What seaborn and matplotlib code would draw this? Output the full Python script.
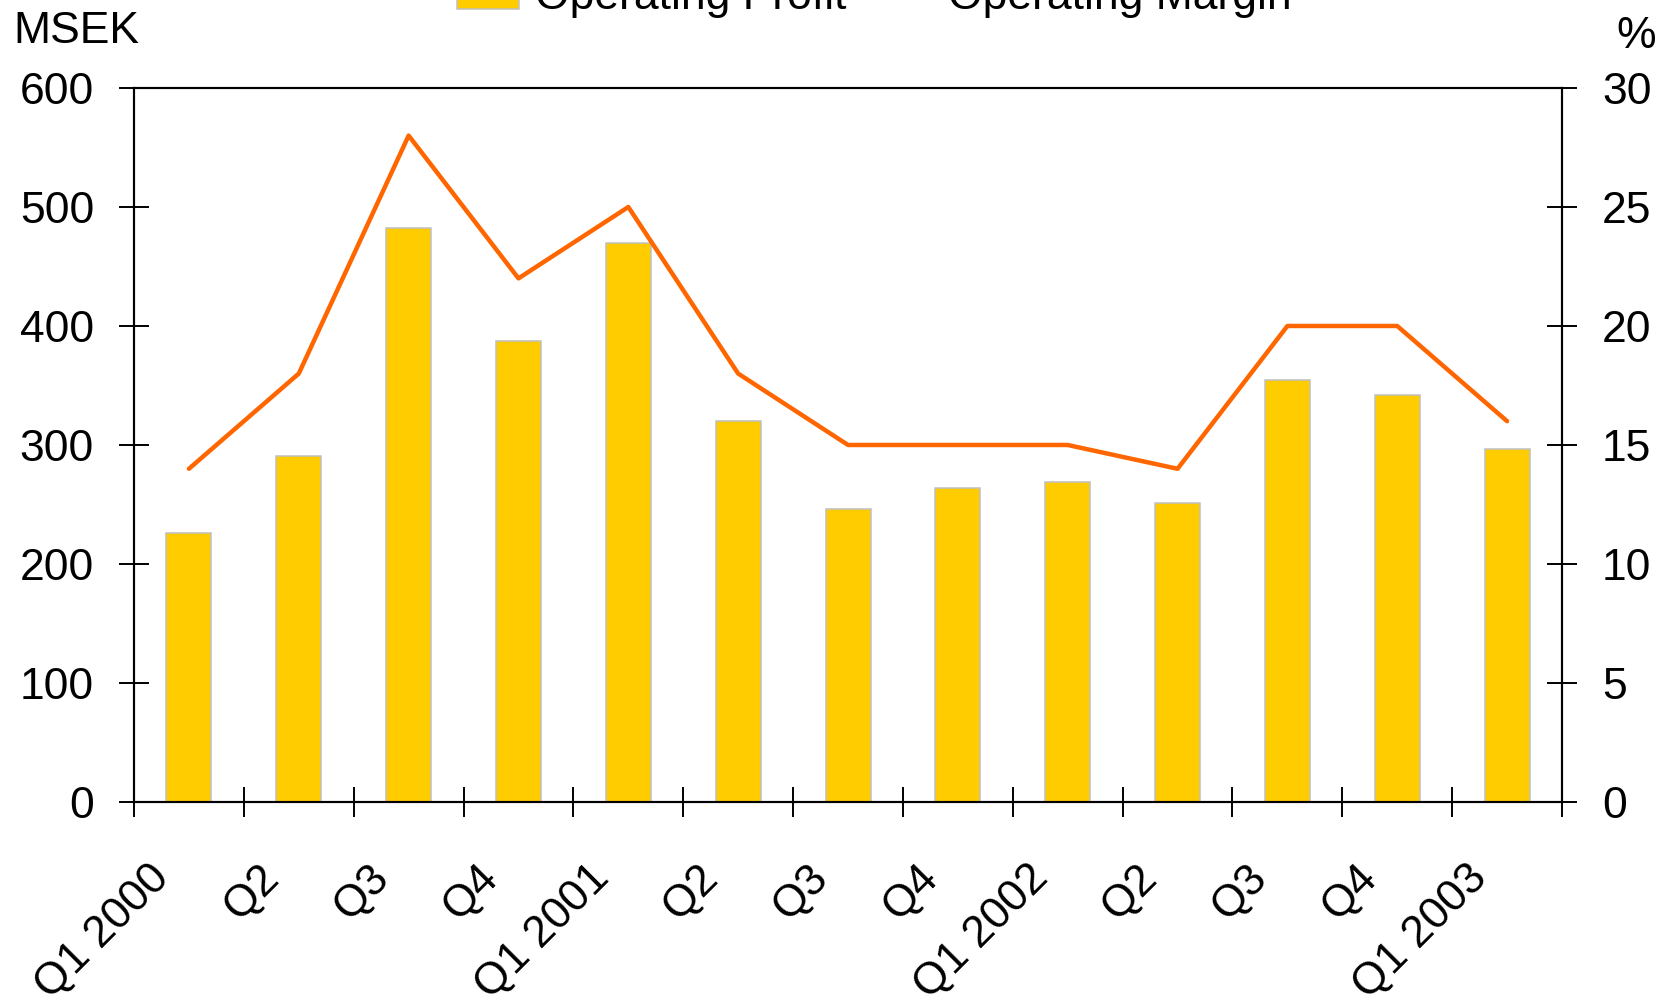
import matplotlib
matplotlib.use("Agg")
import matplotlib.pyplot as plt
import seaborn as sns
import pandas as pd
from matplotlib.patches import Patch
from matplotlib.lines import Line2D
from matplotlib.ticker import MultipleLocator, FixedLocator
from matplotlib.transforms import ScaledTranslation

# data
quarters = ["Q1 2000", "Q2 2000", "Q3 2000", "Q4 2000",
            "Q1 2001", "Q2 2001", "Q3 2001", "Q4 2001",
            "Q1 2002", "Q2 2002", "Q3 2002", "Q4 2002",
            "Q1 2003"]
tick_labels = ["Q1 2000", "Q2", "Q3", "Q4",
               "Q1 2001", "Q2", "Q3", "Q4",
               "Q1 2002", "Q2", "Q3", "Q4",
               "Q1 2003"]
operating_profit = [226, 291, 482, 387, 470, 320, 246, 264, 269, 251, 355, 342, 297]
operating_margin = [14, 18, 28, 22, 25, 18, 15, 15, 15, 14, 20, 20, 16]

BAR = "#ffcc00"
EDGE = "#c0c0c0"
LINE = "#ff6600"

sns.set_theme(style="white")
plt.rcParams["font.family"] = ["Liberation Sans", "DejaVu Sans"]
plt.rcParams["text.color"] = "black"
plt.rcParams["xtick.color"] = "black"
plt.rcParams["ytick.color"] = "black"
plt.rcParams["xtick.labelcolor"] = "black"
plt.rcParams["ytick.labelcolor"] = "black"
FS = 32

df = pd.DataFrame({"quarter": quarters, "profit": operating_profit,
                   "margin": operating_margin, "pos": range(len(quarters))})

fig = plt.figure(figsize=(16.69, 10.02), dpi=100)
ax = fig.add_axes([0.0803, 0.1996, 0.8556, 0.7126])

sns.barplot(data=df, x="quarter", y="profit", color=BAR, width=0.41,
            edgecolor=EDGE, linewidth=1.1, saturation=1, ax=ax)

ax2 = ax.twinx()
sns.lineplot(data=df, x="pos", y="margin", color=LINE, linewidth=3.2,
             solid_capstyle="round", ax=ax2)

ax.set_xlim(-0.5, len(quarters) - 0.5)
ax.set_ylim(0, 600)
ax2.set_ylim(0, 30)
ax.yaxis.set_major_locator(MultipleLocator(100))
ax2.yaxis.set_major_locator(MultipleLocator(5))

ax.set_xlabel("")
ax.set_ylabel("")
ax2.set_xlabel("")
ax2.set_ylabel("")

# category labels at centres, tick marks at boundaries
ax.set_xticks(range(len(quarters)))
ax.set_xticklabels(tick_labels, rotation=45, ha="right", va="center",
                   rotation_mode="anchor")
ax.xaxis.set_minor_locator(FixedLocator([i - 0.5 for i in range(len(quarters) + 1)]))
ax.tick_params(axis="x", which="major", length=0, pad=50, labelsize=FS)
ax.tick_params(axis="x", which="minor", direction="inout", length=21.6,
               width=1.4, color="black", bottom=True)
ax.tick_params(axis="y", direction="inout", length=21.6, width=1.4,
               pad=18, labelsize=FS, left=True, color="black")
ax2.tick_params(axis="y", direction="inout", length=21.6, width=1.4,
                pad=18, labelsize=FS, right=True, color="black")

# nudge the rotated labels left like the original
shift = ScaledTranslation(-0.26, 0, fig.dpi_scale_trans)
for lab in ax.get_xticklabels():
    lab.set_transform(lab.get_transform() + shift)

for a in (ax, ax2):
    for s in a.spines.values():
        s.set_color("black")
        s.set_linewidth(1.5)
    a.grid(False)

fig.text(13 / 1669, 1 - 43 / 1002, "MSEK", fontsize=FS, ha="left", va="baseline")
fig.text(1616 / 1669, 1 - 48 / 1002, "%", fontsize=FS, ha="left", va="baseline")

handles = [Patch(facecolor=BAR, edgecolor=EDGE, linewidth=1.1),
           Line2D([], [], color=LINE, linewidth=3.2)]
fig.legend(handles, ["Operating Profit", "Operating Margin"], loc="center",
           bbox_to_anchor=(0.524, 1.002), ncol=2, frameon=False, fontsize=FS,
           handlelength=1.4, handletextpad=0.36, columnspacing=0.52)

fig.savefig("out.png", dpi=100)
plt.close(fig)
